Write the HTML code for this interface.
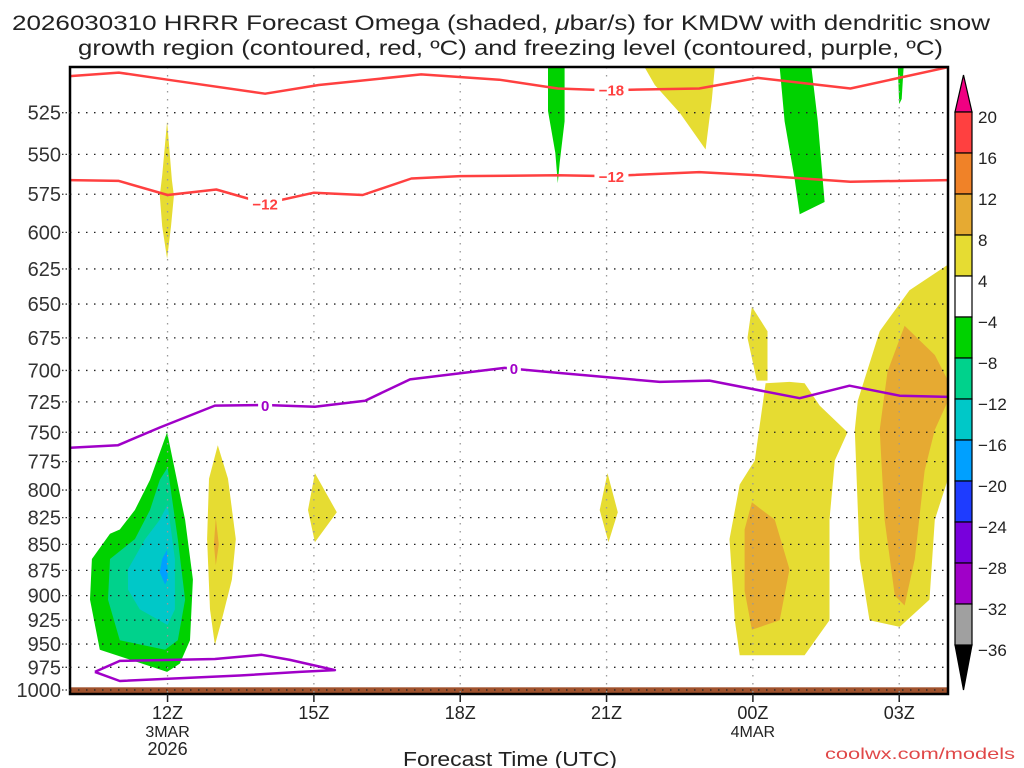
<!DOCTYPE html>
<html><head><meta charset="utf-8"><style>
html,body{margin:0;padding:0;background:#fff;}
svg{display:block;font-family:"Liberation Sans","DejaVu Sans",sans-serif;}
</style></head><body>
<svg id="chart" width="1024" height="768" viewBox="0 0 1024 768">
<g>
<text x="12" y="30" font-size="21" fill="#222" textLength="978" lengthAdjust="spacingAndGlyphs">2026030310 HRRR Forecast Omega (shaded, <tspan font-style="italic">μ</tspan>bar/s) for KMDW with dendritic snow</text>
<text x="78" y="55" font-size="21" fill="#222" textLength="865" lengthAdjust="spacingAndGlyphs">growth region (contoured, red, ºC) and freezing level (contoured, purple, ºC)</text>
</g>
<g id="shade"></g>
<g id="grid"></g>
<rect id="ground" fill="#a0522d"/>
<g id="lines"></g>
<g id="axes"></g>
<g id="cbar"></g>
<text x="403" y="766" font-size="20" fill="#222" textLength="214" lengthAdjust="spacingAndGlyphs">Forecast Time (UTC)</text>
<text x="825" y="759" font-size="16" fill="#e04848" textLength="190" lengthAdjust="spacingAndGlyphs">coolwx.com/models</text>
</svg>
<script>
// ---- data ----
const xTickHours = [12, 15, 18, 21, 24, 27];
const xTickLabels = ["12Z", "15Z", "18Z", "21Z", "00Z", "03Z"];
const xTickSub1 = ["3MAR", "", "", "", "4MAR", ""];
const xTickSub2 = ["2026", "", "", "", "", ""];
const pTicks = [525,550,575,600,625,650,675,700,725,750,775,800,825,850,875,900,925,950,975,1000];
const cbarLevels = [20,16,12,8,4,-4,-8,-12,-16,-20,-24,-28,-32,-36];
const cbarColors = ["#ff4040","#f08228","#e6aa32","#e6dc32","#ffffff","#00d200","#00d28c","#00c8c8","#00a0ff","#1e3cff","#7800dc","#a000c8","#a0a0a0"];
const groundPressure = 997;
// contour lines: [hour, pressure]
const lineM18 = [[10,504],[11,502],[12,506],[14,514],[15.1,509],[17.2,503],[18.8,506],[20,511],[21,512],[22.9,511],[24.1,505],[26,511],[28,499]];
const lineM12 = [[10,566],[11,566.5],[12,575.5],[13,572],[14,581],[15,574],[16,575.5],[17,565],[18,563.5],[20,563],[21,563.5],[22.9,561],[24.1,563],[26,567],[28,566]];
const line0 = [[10,763],[10.98,761],[11.84,746],[12.97,728],[14,727.5],[15.02,729],[16.05,724],[16.97,707],[18.91,698],[20.04,702],[22.09,709],[23.11,708],[24.96,722],[25.98,712],[27.01,720],[28,721]];
const line0Low = [[10.51,980],[11.02,968],[12.97,966],[13.93,961.5],[14.51,967],[15.43,978],[14.71,980],[13.48,984],[11.02,990],[10.51,980]];
// shaded polygons [hour, pressure]
const greenBlobs = [
 [[11.99,750],[12.36,827],[12.52,884],[12.46,946],[12.25,971],[11.99,980],[10.61,956],[10.41,904],[10.45,864],[10.82,840],[11.02,836],[11.33,818],[11.64,791]],
 [[19.8,499],[20.14,499],[20.14,530],[20.04,555],[20.0,568],[19.95,549],[19.8,524]],
 [[24.55,499],[25.2,499],[25.33,530],[25.47,580],[24.96,588],[24.86,566],[24.65,530]],
 [[26.97,499],[27.09,499],[27.05,517],[27.0,520]]
];
const tealBlobs = [[[12.0,780],[12.21,845],[12.36,904],[12.21,946],[11.95,956],[11.02,946],[10.78,904],[10.82,864],[11.33,845],[11.64,818],[11.84,791]]];
const cyanBlobs = [[[12.0,813],[12.15,864],[12.15,914],[12.0,930],[11.43,914],[11.19,894],[11.19,874],[11.54,845],[11.84,827]]];
const blueBlobs = [[[11.99,855],[12.0,884],[11.95,889],[11.84,877],[11.89,864]]];
const yellowBlobs = [
 [[11.99,530],[12.09,566],[12.13,576],[12.07,596],[11.99,618],[11.89,596],[11.84,576],[11.89,563]],
 [[13.03,761],[13.24,790],[13.4,845],[13.32,884],[13.11,925],[12.97,951],[12.87,914],[12.81,845],[12.85,790]],
 [[15.02,785],[15.47,820],[15.02,848],[14.88,818]],
 [[21.02,785],[21.23,820],[21.04,848],[20.86,818]],
 [[21.78,499],[23.22,499],[23.16,517],[23.03,547],[22.5,525],[21.99,509]],
 [[23.98,652],[24.3,670],[24.3,708],[24.08,708],[23.89,675]],
 [[24.26,710],[24.75,709],[25.06,710],[25.37,728],[25.94,750],[25.68,774],[25.57,827],[25.57,925],[25.06,962],[23.73,962],[23.63,925],[23.52,845],[23.73,795],[24.04,774]],
 [[28,622],[28,790],[27.73,827],[27.62,904],[27.01,932],[26.39,925],[26.19,864],[26.09,748],[26.15,724],[26.6,670],[27.21,640]]
];
const orangeBlobs = [
 [[12.99,825],[13.05,850],[12.99,870],[12.95,850]],
 [[23.98,811],[24.45,827],[24.75,874],[24.55,925],[23.98,935],[23.83,895],[23.83,836]],
 [[27.11,666],[27.73,688],[28,708],[28,724],[27.73,748],[27.52,783],[27.32,864],[27.11,910],[26.91,900],[26.7,827],[26.6,748],[26.76,701]]
];
const lineLabels = [["−18",21.1,511.5,"#ff4040"],["−12",21.1,563.5,"#ff4040"],["−12",14.0,581,"#ff4040"],["0",14.0,727.5,"#a000c8"],["0",19.1,698,"#a000c8"]];
// ---- scales ----
const X0=70, X1=948, Y0=67, Y1=694;
const hMin=10, hMax=28;
function xs(h){return X0+(h-hMin)/(hMax-hMin)*(X1-X0);}
function ys(p){return 69+Math.log(p/500)/Math.log(2)*621;}
const NS="http://www.w3.org/2000/svg";
function mk(tag,attrs,parent){const e=document.createElementNS(NS,tag);for(const k in attrs)e.setAttribute(k,attrs[k]);parent.appendChild(e);return e;}
const shade=document.getElementById('shade');
function drawPolys(arr,color,name){arr.forEach(poly=>{const e=mk('polygon',{points:poly.map(d=>xs(d[0]).toFixed(1)+','+ys(d[1]).toFixed(1)).join(' '),fill:color},shade);

});}
drawPolys(greenBlobs,"#00d200","omega-area-minus4");
drawPolys(tealBlobs,"#00d28c","omega-area-minus8");
drawPolys(cyanBlobs,"#00c8c8","omega-area-minus12");
drawPolys(blueBlobs,"#00a0ff","omega-area-minus16");
drawPolys(yellowBlobs,"#e6dc32","omega-area-plus4");
drawPolys(orangeBlobs,"#e6aa32","omega-area-plus8");
// ground
const g=document.getElementById('ground');
g.setAttribute('x',X0);g.setAttribute('width',X1-X0);g.setAttribute('y',ys(groundPressure));g.setAttribute('height',Y1-ys(groundPressure));
// grid
const grid=document.getElementById('grid');
pTicks.forEach(p=>{const e=mk('line',{x1:X0,x2:X1,y1:ys(p),y2:ys(p),stroke:"#222","stroke-width":1.3,"stroke-dasharray":"1.5,6.5"},grid);

});
xTickHours.forEach(h=>{const e=mk('line',{x1:xs(h),x2:xs(h),y1:Y0,y2:Y1,stroke:"#999","stroke-width":1.3,"stroke-dasharray":"1.5,6.5"},grid);

});
// move ground above grid lines except the 1000 dotted line stays visible
document.getElementById('chart').insertBefore(g, grid);
// lines
const lines=document.getElementById('lines');
function drawLine(d,color,name){const e=mk('polyline',{points:d.map(v=>xs(v[0]).toFixed(1)+','+ys(v[1]).toFixed(1)).join(' '),fill:"none",stroke:color,"stroke-width":2.5,"stroke-linejoin":"round"},lines);

}
drawLine(lineM18,"#ff4040","contour-minus18");
drawLine(lineM12,"#ff4040","contour-minus12");
drawLine(line0,"#a000c8","freezing-level-contour");
drawLine(line0Low,"#a000c8","freezing-level-low-contour");
lineLabels.forEach(l=>{const x=xs(l[1]),y=ys(l[2]);const w=l[0].length*10+4;
const r=mk('rect',{x:x-w/2,y:y-8,width:w,height:16,fill:"#fff"},lines);


const t=mk('text',{x:x,y:y+6,"text-anchor":"middle","font-size":15,"font-weight":"bold",fill:l[3]},lines);t.textContent=l[0];

});
// axes
const ax=document.getElementById('axes');
const fr=mk('rect',{x:X0,y:Y0,width:X1-X0,height:Y1-Y0,fill:"none",stroke:"#000","stroke-width":2.5},ax);


pTicks.forEach(p=>{const y=ys(p);mk('line',{x1:X0-8,x2:X0,y1:y,y2:y,stroke:"#333","stroke-width":1.3,"stroke-dasharray":"1.5,2"},ax);
const t=mk('text',{x:61,y:y+7,"text-anchor":"end","font-size":20,fill:"#333"},ax);t.textContent=p;

});
xTickHours.forEach((h,i)=>{const x=xs(h);mk('line',{x1:x,x2:x,y1:Y1,y2:Y1+8,stroke:"#222","stroke-width":1.5},ax);
[[xTickLabels[i],719,18],[xTickSub1[i],737,16],[xTickSub2[i],755,18]].forEach(s=>{if(!s[0])return;
const t=mk('text',{x:x,y:s[1],"text-anchor":"middle","font-size":s[2],fill:"#222"},ax);t.textContent=s[0];

});});
// colorbar
const cb=document.getElementById('cbar');
const CBX=955,CBW=17,CBT=112,CBB=645;const step=(CBB-CBT)/(cbarLevels.length-1);
const tt=mk('polygon',{points:`${CBX},${CBT} ${CBX+CBW},${CBT} ${CBX+CBW/2},${CBT-37}`,fill:"#f00082",stroke:"#000","stroke-width":1.2},cb);


const tb=mk('polygon',{points:`${CBX},${CBB} ${CBX+CBW},${CBB} ${CBX+CBW/2},${CBB+45}`,fill:"#000",stroke:"#000","stroke-width":1.2},cb);


cbarColors.forEach((c,i)=>{const r=mk('rect',{x:CBX,y:CBT+i*step,width:CBW,height:step,fill:c,stroke:"#000","stroke-width":1.2},cb);

});
cbarLevels.forEach((v,i)=>{const t=mk('text',{x:978,y:CBT+i*step+11,"font-size":17,fill:"#222"},cb);t.textContent=(v<0?"−"+(-v):v);

});
</script>
</body></html>
